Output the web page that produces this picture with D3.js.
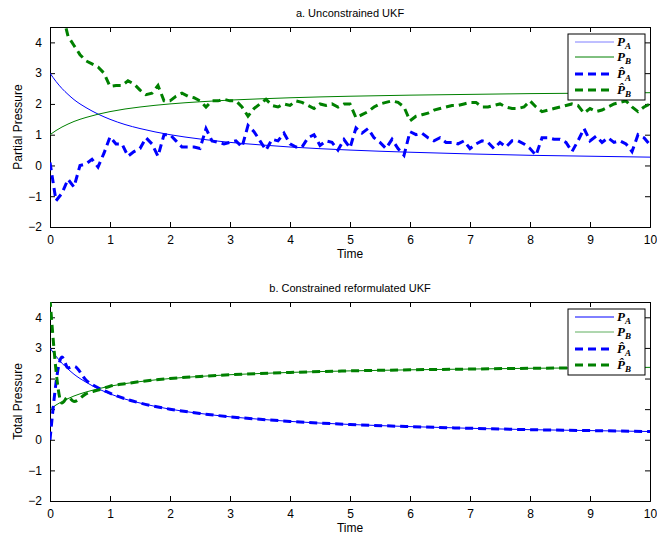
<!DOCTYPE html>
<html>
<head>
<meta charset="utf-8">
<script src="https://cdn.jsdelivr.net/npm/d3@7"></script>
<style>
  body { margin: 0; background: #fff; }
</style>
</head>
<body>
<div id="plot"></div>
<script>
// true partial pressures
let trueTimes = [0, 0.1, 0.2, 0.3, 0.4, 0.5, 0.6, 0.8, 1, 1.25, 1.5, 2, 2.5, 3, 3.5, 4, 5, 6, 7, 8, 9, 10];
let truePA = [3, 2.73, 2.5, 2.31, 2.14, 2.0, 1.88, 1.67, 1.5, 1.33, 1.2, 1.0, 0.86, 0.75, 0.67, 0.6, 0.5, 0.43, 0.375, 0.33, 0.3, 0.27];
let truePB = [1, 1.135, 1.25, 1.345, 1.43, 1.5, 1.56, 1.665, 1.75, 1.835, 1.9, 2.0, 2.07, 2.125, 2.165, 2.2, 2.25, 2.285, 2.31, 2.335, 2.35, 2.365];

// unconstrained UKF estimates, sampled every 0.1
let dt = 0.1;
let ukfPA = [0.1, -1.15, -0.9, -0.45, -0.7, 0.0, 0.05, 0.2, -0.05, 0.4,
  0.93, 0.7, 0.7, 0.3, 0.45, 0.55, 0.9, 0.7, 0.3, 1.0,
  1.0, 0.8, 0.6, 0.6, 0.6, 0.55, 1.2, 0.8, 0.75, 0.7,
  0.75, 0.8, 0.6, 1.3, 1.1, 0.8, 0.5, 0.85, 0.8, 1.05,
  0.7, 0.6, 0.6, 0.9, 1.0, 0.65, 0.8, 0.75, 0.5, 0.84,
  0.57, 1.22, 1.05, 1.2, 0.9, 0.75, 0.55, 0.85, 0.55, 0.33,
  1.1, 1.0, 1.05, 0.9, 0.8, 0.9, 0.75, 0.75, 0.7, 0.8,
  0.55, 0.7, 0.8, 0.75, 0.55, 0.75, 0.6, 0.8, 0.8, 0.7,
  0.55, 0.33, 0.9, 0.9, 0.85, 0.85, 0.75, 0.45, 0.8, 1.2,
  0.8, 0.95, 0.75, 0.9, 0.75, 0.8, 0.7, 0.45, 1.0, 0.9,
  0.67];
let ukfPB = [6.5, 5.8, 5.0, 4.2, 3.9, 3.6, 3.4, 3.3, 3.2, 3.0,
  2.57, 2.6, 2.6, 2.75, 2.65, 2.45, 2.3, 2.35, 2.6, 2.1,
  2.1, 2.25, 2.35, 2.25, 2.2, 2.1, 1.9, 2.1, 2.1, 2.15,
  2.1, 2.1, 1.9, 1.6, 1.85, 2.0, 2.15, 1.95, 1.9, 2.0,
  1.95, 2.1, 2.05, 1.95, 1.85, 2.0, 1.95, 2.0, 1.9, 2.0,
  2.0, 1.55, 1.65, 1.75, 1.9, 2.0, 2.05, 2.1, 2.05, 1.9,
  1.45, 1.6, 1.65, 1.7, 1.8, 1.85, 1.9, 1.95, 1.95, 2.0,
  2.05, 2.05, 1.9, 1.9, 1.95, 2.0, 1.9, 1.85, 1.85, 1.9,
  2.1, 1.9, 1.75, 1.8, 1.85, 1.9, 1.95, 2.0, 1.95, 1.7,
  1.85, 1.75, 1.8, 1.9, 2.0, 2.05, 2.1, 1.9, 1.75, 1.9,
  2.0];

// constrained reformulated UKF estimates
let crTimes = [0, 0.2, 0.3, 0.4, 0.6, 0.8, 1, 1.25, 1.5, 2, 2.5, 3, 3.5, 4, 5, 6, 7, 8, 9, 10];
let crPA = [0, 2.7, 2.35, 2.4, 1.95, 1.7, 1.52, 1.34, 1.2, 1.0, 0.86, 0.75, 0.67, 0.6, 0.5, 0.43, 0.375, 0.33, 0.3, 0.27];
let crPB = [4.6, 1.2, 1.4, 1.25, 1.5, 1.62, 1.75, 1.83, 1.9, 2.0, 2.07, 2.125, 2.165, 2.2, 2.25, 2.285, 2.31, 2.335, 2.35, 2.365];

let xTicks = [0, 1, 2, 3, 4, 5, 6, 7, 8, 9, 10];
let yTicks = [-2, -1, 0, 1, 2, 3, 4];

window.addEventListener("load", main);

function zipXY(ts, vs){ return ts.map((t, i) => ({t: t, v: vs[i]})); }

function main(){
  let sans = '"Liberation Sans", Arial, sans-serif';
  let serif = '"Liberation Serif", "DejaVu Serif", serif';

  let svg = d3.select('#plot').append('svg')
    .attr('width', 657).attr('height', 538)
    .attr('font-family', sans);

  let blue = '#0000ff', green = '#008000';

  let ukfTimes = ukfPA.map((d, i) => +(i * dt).toFixed(1));

  let panels = [
    {title: 'a. Unconstrained UKF', ylab: 'Partial Pressure', top: 27, bottom: 227,
     est: [zipXY(ukfTimes, ukfPA), zipXY(ukfTimes, ukfPB)], legTop: 34,
     legCols: ['#7f7fff', green]},
    {title: 'b. Constrained reformulated UKF', ylab: 'Total Pressure', top: 302, bottom: 501,
     est: [zipXY(crTimes, crPA), zipXY(crTimes, crPB)], legTop: 309,
     legCols: [blue, '#5fae5f']}
  ];

  let [left, right] = [50, 650];

  panels.forEach((p, k) => {
    let xsc = d3.scaleLinear().domain([0, 10]).range([left, right]);
    let ysc = d3.scaleLinear().domain([-2, 4.5]).range([p.bottom, p.top]);
    let g = svg.append('g');

    g.append('clipPath').attr('id', 'clip' + k)
      .append('rect').attr('x', left).attr('y', p.top)
      .attr('width', right - left).attr('height', p.bottom - p.top);

    // axes, MATLAB style: ticks inward on all four sides
    g.append('g').attr('transform', `translate(0,${p.bottom})`)
      .call(d3.axisBottom(xsc).tickValues(xTicks).tickSize(-5).tickPadding(8).tickFormat(d3.format('d')));
    g.append('g').attr('transform', `translate(0,${p.top})`)
      .call(d3.axisTop(xsc).tickValues(xTicks).tickSize(-5).tickFormat(''));
    g.append('g').attr('transform', `translate(${left},0)`)
      .call(d3.axisLeft(ysc).tickValues(yTicks).tickSize(-5).tickPadding(8).tickFormat(d3.format('d')));
    g.append('g').attr('transform', `translate(${right},0)`)
      .call(d3.axisRight(ysc).tickValues(yTicks).tickSize(-5).tickFormat(''));
    g.selectAll('.domain').attr('stroke', '#000');
    g.selectAll('.tick line').attr('stroke', '#000');
    g.selectAll('.tick text').attr('font-size', 12).attr('fill', '#000')
      .attr('font-family', sans);

    let line = d3.line().x(d => xsc(d.t)).y(d => ysc(d.v));
    let smooth = d3.line().x(d => xsc(d.t)).y(d => ysc(d.v)).curve(d3.curveMonotoneX);

    let plot = g.append('g').attr('clip-path', `url(#clip${k})`);
    plot.append('path').datum(zipXY(trueTimes, truePA))
      .attr('d', smooth).attr('fill', 'none').attr('stroke', blue).attr('stroke-width', 1);
    plot.append('path').datum(zipXY(trueTimes, truePB))
      .attr('d', smooth).attr('fill', 'none').attr('stroke', green).attr('stroke-width', 1);
    plot.append('path').datum(p.est[0])
      .attr('d', k == 0 ? line : smooth).attr('fill', 'none').attr('stroke', blue)
      .attr('stroke-width', 3).attr('stroke-dasharray', '8,5');
    plot.append('path').datum(p.est[1])
      .attr('d', k == 0 ? line : smooth).attr('fill', 'none').attr('stroke', green)
      .attr('stroke-width', 3).attr('stroke-dasharray', '8,5');

    // titles and labels
    g.append('text').attr('x', 350).attr('y', p.top - 10).attr('text-anchor', 'middle')
      .attr('font-size', 11).text(p.title);
    g.append('text').attr('x', 350).attr('y', p.bottom + 31).attr('text-anchor', 'middle')
      .attr('font-size', 12).text('Time');
    g.append('text').attr('transform', `translate(22,${(p.top + p.bottom) / 2}) rotate(-90)`)
      .attr('text-anchor', 'middle').attr('font-size', 12).text(p.ylab);

    // legend
    let leg = g.append('g');
    leg.append('rect').attr('x', 568).attr('y', p.legTop).attr('width', 77).attr('height', 66)
      .attr('fill', '#fff').attr('stroke', '#000').attr('stroke-width', 1);
    let items = [
      {col: p.legCols[0], w: 1, dash: null, sub: 'A', hat: false},
      {col: p.legCols[1], w: 1, dash: null, sub: 'B', hat: false},
      {col: blue, w: 3, dash: '8,5', sub: 'A', hat: true},
      {col: green, w: 3, dash: '8,5', sub: 'B', hat: true}
    ];
    let rowY = [8, 23, 40, 56];
    items.forEach((it, i) => {
      let y = p.legTop + rowY[i];
      leg.append('line').attr('x1', 575).attr('x2', 614).attr('y1', y).attr('y2', y)
        .attr('stroke', it.col).attr('stroke-width', it.w)
        .attr('stroke-dasharray', it.dash);
      let t = leg.append('text').attr('x', 617).attr('y', y + 4)
        .attr('font-family', serif)
        .attr('font-style', 'italic').attr('font-weight', 'bold').attr('font-size', 13);
      t.append('tspan').text(it.hat ? 'P\u0302' : 'P');
      t.append('tspan').attr('font-size', 9).attr('dy', 3).text(it.sub);
    });
  });
}
</script>
</body>
</html>
